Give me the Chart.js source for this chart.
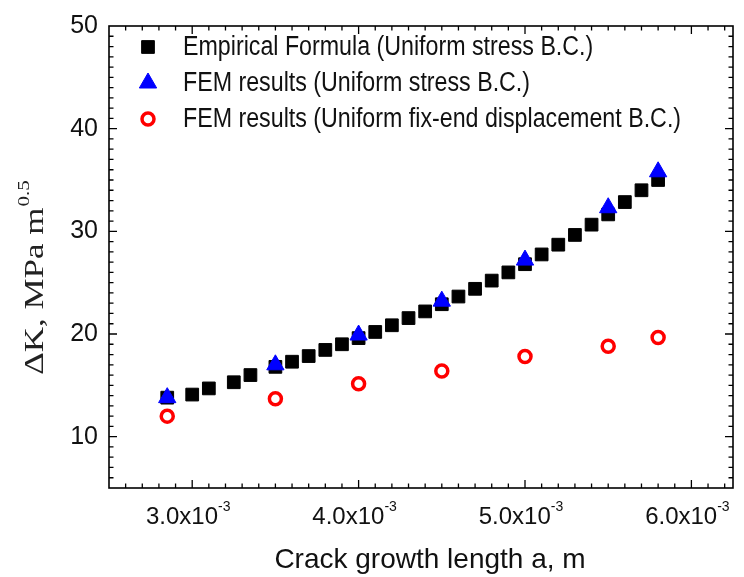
<!DOCTYPE html>
<html>
<head>
<meta charset="utf-8">
<script src="https://cdn.jsdelivr.net/npm/chart.js@4.4.1/dist/chart.umd.min.js"></script>
<style>
  html, body { margin: 0; padding: 0; background: #fff; }
</style>
</head>
<body>
<canvas id="myChart" width="744" height="577"></canvas>
<script>
// crack length a (m) and dK values
const crackLength = [2.85e-3, 3.0e-3, 3.1e-3, 3.25e-3, 3.35e-3, 3.5e-3, 3.6e-3, 3.7e-3, 3.8e-3, 3.9e-3,
  4.0e-3, 4.1e-3, 4.2e-3, 4.3e-3, 4.4e-3, 4.5e-3, 4.6e-3, 4.7e-3, 4.8e-3, 4.9e-3,
  5.0e-3, 5.1e-3, 5.2e-3, 5.3e-3, 5.4e-3, 5.5e-3, 5.6e-3, 5.7e-3, 5.8e-3];
const empiricalK = [13.8, 14.1, 14.7, 15.3, 16.0, 16.8, 17.3, 17.85, 18.45, 19.0,
  19.6, 20.2, 20.85, 21.55, 22.2, 22.9, 23.65, 24.4, 25.2, 26.0,
  26.8, 27.75, 28.7, 29.65, 30.65, 31.65, 32.85, 34.0, 35.0];

const femLength = [2.85e-3, 3.5e-3, 4.0e-3, 4.5e-3, 5.0e-3, 5.5e-3, 5.8e-3];
const femStressK = [13.8, 17.0, 19.9, 23.2, 27.2, 32.3, 35.8];
const femDispK = [12.0, 13.7, 15.15, 16.4, 17.8, 18.8, 19.65];

const xTicks = [3.0e-3, 4.0e-3, 5.0e-3, 6.0e-3];
const xTickLabels = ["3.0x10", "4.0x10", "5.0x10", "6.0x10"];
const xTickExp = "-3";
const yTicks = [10, 20, 30, 40, 50];

const seriesNames = [
  "Empirical Formula (Uniform stress B.C.)",
  "FEM results (Uniform stress B.C.)",
  "FEM results (Uniform fix-end displacement B.C.)"
];

function toPoints(xs, ys) {
  return xs.map((x, i) => ({ x: x, y: ys[i] }));
}

// frame with inward ticks on all four sides, x labels with superscript, axis titles
const framePlugin = {
  id: "frame",
  afterDraw(chart) {
    const ctx = chart.ctx;
    const a = chart.chartArea;
    const xs = chart.scales.x;
    const ys = chart.scales.y;
    ctx.save();
    ctx.strokeStyle = "#000";
    ctx.lineWidth = 1.6;
    ctx.strokeRect(a.left, a.top, a.right - a.left, a.bottom - a.top);

    ctx.lineWidth = 1.3;
    ctx.beginPath();
    for (let i = 25; i <= 62; i++) {
      const px = xs.getPixelForValue(i * 1e-4);
      if (px <= a.left + 1 || px >= a.right - 1) continue;
      const len = i % 10 === 0 ? 8 : 4.5;
      ctx.moveTo(px, a.bottom); ctx.lineTo(px, a.bottom - len);
      ctx.moveTo(px, a.top); ctx.lineTo(px, a.top + len);
    }
    for (let v = 5; v <= 50; v++) {
      const py = ys.getPixelForValue(v);
      if (py <= a.top + 1 || py >= a.bottom - 1) continue;
      const len = v % 10 === 0 ? 8 : 4.5;
      ctx.moveTo(a.left, py); ctx.lineTo(a.left + len, py);
      ctx.moveTo(a.right, py); ctx.lineTo(a.right - len, py);
    }
    ctx.stroke();

    // x tick labels
    ctx.fillStyle = "#111";
    ctx.textBaseline = "alphabetic";
    xTicks.forEach((v, i) => {
      const px = xs.getPixelForValue(v);
      ctx.font = "24px 'Liberation Sans', Arial, sans-serif";
      const w1 = ctx.measureText(xTickLabels[i]).width;
      ctx.font = "14px 'Liberation Sans', Arial, sans-serif";
      const w2 = ctx.measureText(xTickExp).width;
      const x0 = px - 4 - (w1 + w2) / 2;
      ctx.font = "24px 'Liberation Sans', Arial, sans-serif";
      ctx.textAlign = "left";
      ctx.fillText(xTickLabels[i], x0, a.bottom + 36);
      ctx.font = "14px 'Liberation Sans', Arial, sans-serif";
      ctx.fillText(xTickExp, x0 + w1, a.bottom + 23);
    });

    // x title
    ctx.font = "28px 'Liberation Sans', Arial, sans-serif";
    ctx.textAlign = "center";
    ctx.fillText("Crack growth length a, m", 430, 568);

    // y title (serif, rotated, with superscript)
    ctx.translate(43, 278);
    ctx.rotate(-Math.PI / 2);
    ctx.scale(1, 0.75);
    ctx.fillStyle = "#222";
    ctx.font = "35px 'Liberation Serif', 'Times New Roman', serif";
    const main = "\u0394K, MPa m";
    const wm = ctx.measureText(main).width;
    ctx.font = "21px 'Liberation Serif', 'Times New Roman', serif";
    const we = ctx.measureText("0.5").width;
    const start = -(wm + we) / 2;
    ctx.textAlign = "left";
    ctx.font = "35px 'Liberation Serif', 'Times New Roman', serif";
    ctx.fillText(main, start, 0);
    ctx.font = "21px 'Liberation Serif', 'Times New Roman', serif";
    ctx.fillText("0.5", start + wm + 1, -19);
    ctx.restore();

    // legend inside plot
    ctx.save();
    const rows = [47, 83, 119];
    chart.data.datasets.forEach((ds) => {
      const y = rows[ds.legendRow];
      ctx.fillStyle = ds.backgroundColor;
      ctx.strokeStyle = ds.borderColor;
      ctx.lineWidth = ds.borderWidth;
      Chart.helpers.drawPoint(ctx, {
        pointStyle: ds.pointStyle,
        radius: ds.pointRadius,
        rotation: 0,
        borderWidth: ds.borderWidth
      }, 148, y);
      ctx.save();
      ctx.translate(183, y);
      ctx.scale(0.86, 1);
      ctx.fillStyle = "#111";
      ctx.font = "27px 'Liberation Sans', Arial, sans-serif";
      ctx.textAlign = "left";
      ctx.textBaseline = "middle";
      ctx.fillText(seriesNames[ds.legendRow], 0, 1);
      ctx.restore();
    });
    ctx.restore();
  }
};

const ctxScatter = document.getElementById("myChart").getContext("2d");

new Chart(ctxScatter, {
  type: "scatter",
  data: {
    datasets: [
      {
        label: seriesNames[2],
        legendRow: 2,
        data: toPoints(femLength, femDispK),
        pointStyle: "circle",
        pointRadius: 6,
        backgroundColor: "#ffffff",
        borderColor: "#ff0000",
        borderWidth: 3.5,
        order: 1
      },
      {
        label: seriesNames[1],
        legendRow: 1,
        data: toPoints(femLength, femStressK),
        pointStyle: "triangle",
        pointRadius: 10,
        backgroundColor: "#0000ff",
        borderColor: "#0000ff",
        borderWidth: 1,
        order: 2
      },
      {
        label: seriesNames[0],
        legendRow: 0,
        data: toPoints(crackLength, empiricalK),
        pointStyle: "rect",
        pointRadius: 9,
        backgroundColor: "#000000",
        borderColor: "#000000",
        borderWidth: 1,
        order: 3
      }
    ]
  },
  options: {
    responsive: false,
    animation: false,
    devicePixelRatio: 1,
    layout: {
      padding: { left: 0, right: 3, top: 21, bottom: 0 }
    },
    plugins: {
      legend: { display: false },
      tooltip: { enabled: false }
    },
    scales: {
      x: {
        type: "linear",
        min: 2.5e-3,
        max: 6.25e-3,
        grid: { display: false },
        border: { display: false },
        ticks: { display: false },
        afterFit(scale) { scale.height = 89; }
      },
      y: {
        type: "linear",
        min: 5,
        max: 50,
        grid: { display: false, drawTicks: false },
        border: { display: false },
        afterBuildTicks(scale) {
          scale.ticks = yTicks.map(v => ({ value: v }));
        },
        ticks: {
          padding: 11,
          color: "#111",
          font: { family: "'Liberation Sans', Arial, sans-serif", size: 25 }
        },
        afterFit(scale) { scale.width = 109; }
      }
    }
  },
  plugins: [framePlugin]
});
</script>
</body>
</html>
